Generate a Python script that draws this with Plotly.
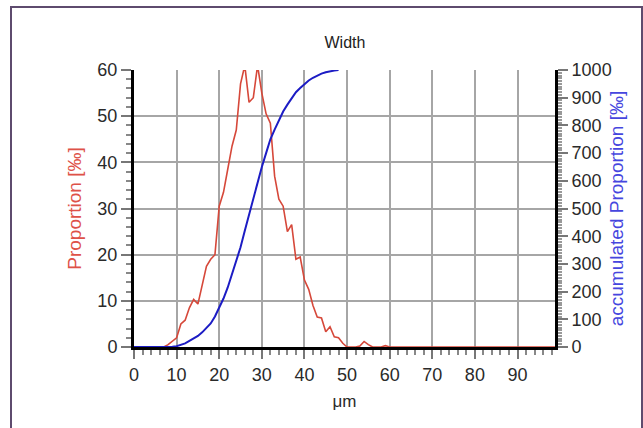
import plotly.graph_objects as go

# ---- data ----
size_um = list(range(0, 100))
proportion = [0, 0, 0, 0, 0, 0, 0, 0, 0.5, 1.2,
              2.0, 5.0, 5.8, 8.5, 10.3, 9.3, 13.5, 17.5, 19.0, 20.0,
              30.5, 33.5, 38.5, 43.5, 47.0, 57.0, 61.0, 53.0, 54.0, 61.0,
              55.0, 50.5, 48.5, 37.0, 32.0, 30.5, 25.0, 26.5, 19.0, 19.5,
              14.5, 12.5, 9.0, 6.5, 6.3, 3.3, 4.4, 2.2, 2.0, 0.8,
              0, 0, 0, 0.2, 1.2, 0.5, 0, 0, 0, 0.3,
              0, 0, 0, 0, 0, 0, 0, 0, 0, 0,
              0, 0, 0, 0, 0, 0, 0, 0, 0, 0,
              0, 0, 0, 0, 0, 0, 0, 0, 0, 0,
              0, 0, 0, 0, 0, 0, 0, 0, 0, 0]
acc_size_um = list(range(0, 49))
accumulated = [0, 0, 0, 0, 0, 0, 0, 0, 0, 1,
               3, 8, 13, 22, 31, 40, 53, 68, 85, 110,
               140, 175, 215, 262, 310, 360, 420, 480, 540, 600,
               650, 700, 750, 785, 820, 850, 875, 900, 920, 935,
               950, 962, 972, 980, 987, 992, 996, 998, 1000]

title_text = "Width"
x_title = "μm"
y_title = "Proportion [‰]"
y2_title = "accumulated Proportion [‰]"

RED = "rgb(214,72,58)"
BLUE = "rgb(28,28,196)"
FONT = "Liberation Sans, Arial, sans-serif"
TICKFONT = dict(family=FONT, size=18, color="#2a2a2a")

fig = go.Figure()
fig.add_trace(go.Scatter(x=acc_size_um, y=accumulated, mode="lines",
                         line=dict(color=BLUE, width=2), yaxis="y2",
                         showlegend=False))
fig.add_trace(go.Scatter(x=size_um, y=proportion, mode="lines",
                         line=dict(color=RED, width=1.6),
                         showlegend=False))

fig.update_layout(
    width=643, height=428,
    margin=dict(l=134, r=88, t=70, b=81),
    paper_bgcolor="white", plot_bgcolor="white",
    title=dict(text=title_text, x=0.5365, xanchor="center", y=1 - 42 / 428,
               yanchor="middle", font=dict(family=FONT, size=16, color="#222")),
    xaxis=dict(range=[0, 98.8], tickmode="linear", tick0=0, dtick=10,
               showgrid=True, gridcolor="#a6a6a6", gridwidth=2,
               showline=True, linecolor="black", linewidth=3,
               ticks="outside", ticklen=9, tickcolor="#777", tickwidth=1.5,
               minor=dict(dtick=2, ticks="outside", ticklen=5, tickcolor="#888", showgrid=False),
               tickfont=TICKFONT, zeroline=False, layer="below traces",
               title=dict(text=x_title, font=dict(family=FONT, size=17, color="#2a2a2a"), standoff=12)),
    yaxis=dict(range=[0, 60], tickmode="linear", tick0=0, dtick=10,
               showgrid=True, gridcolor="#a6a6a6", gridwidth=2,
               showline=True, linecolor="black", linewidth=3,
               ticks="outside", ticklen=10, tickcolor="#777", tickwidth=1.5,
               minor=dict(dtick=2, ticks="outside", ticklen=5, tickcolor="#888", showgrid=False),
               tickfont=TICKFONT, zeroline=False, layer="below traces",
               title=dict(text=y_title, font=dict(family=FONT, size=19, color="rgb(222,82,72)"), standoff=11)),
    yaxis2=dict(range=[0, 1000], overlaying="y", side="right", tickmode="linear",
                tick0=0, dtick=100, showgrid=False,
                showline=True, linecolor="black", linewidth=3,
                ticks="outside", ticklen=10, tickcolor="#777", tickwidth=1.5,
                minor=dict(dtick=10, ticks="outside", ticklen=4, tickcolor="#999"),
                tickfont=TICKFONT, zeroline=False, layer="below traces",
                title=dict(text=y2_title, font=dict(family=FONT, size=19, color="rgb(70,70,222)"), standoff=0)),
    shapes=[dict(type="rect", xref="paper", yref="paper",
                 x0=(11 - 134) / 421, x1=(642 - 134) / 421,
                 y0=(347 - 460) / 277, y1=(347 - 7) / 277,
                 line=dict(color="#5e4b6e", width=2), layer="below")],
)

fig.write_html("out.html")
